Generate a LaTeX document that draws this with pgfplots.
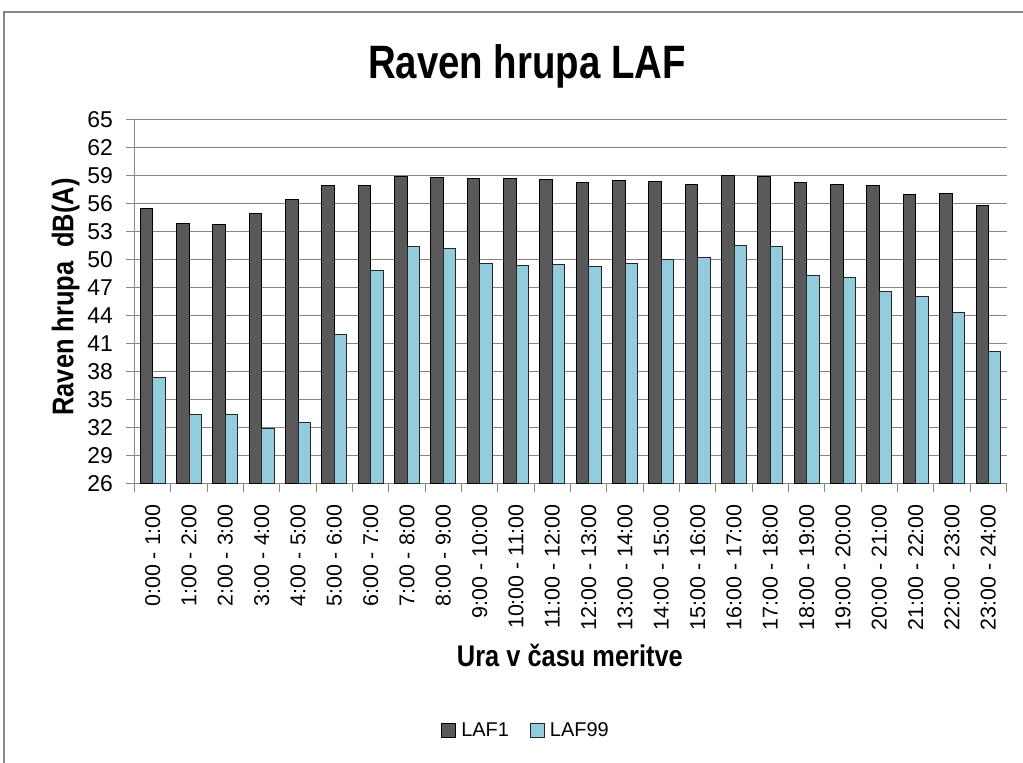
\documentclass[border=0pt]{standalone}
\usepackage{pgfplots}
\pgfplotsset{compat=1.18}
\usepackage{fontspec}
\setmainfont{Liberation Sans}
\newfontfamily\titlefont{Liberation Sans}[FakeStretch=0.82]
\newfontfamily\labelfont{Liberation Sans}[FakeStretch=0.85]
\definecolor{darkbar}{HTML}{595959}
\definecolor{lightbar}{HTML}{93CDDD}
\definecolor{gridgray}{HTML}{868686}
\begin{document}
\begin{tikzpicture}[x=1bp,y=1bp]
\begin{axis}[
  at={(0,0)}, anchor=south west,
  scale only axis, width=872bp, height=364bp,
  xmin=-0.5, xmax=23.5, ymin=26, ymax=65,
  ybar=0pt, bar width=12.35bp,
  axis x line*=bottom, axis y line*=left,
  axis line style={gridgray, line width=1.2bp},
  ytick={26,29,...,65},
  ymajorgrids, grid style={gridgray, line width=1.2bp},
  xtick={0,...,23},
  xticklabels={0:00 - 1:00,1:00 - 2:00,2:00 - 3:00,3:00 - 4:00,4:00 - 5:00,5:00 - 6:00,6:00 - 7:00,7:00 - 8:00,8:00 - 9:00,9:00 - 10:00,10:00 - 11:00,11:00 - 12:00,12:00 - 13:00,13:00 - 14:00,14:00 - 15:00,15:00 - 16:00,16:00 - 17:00,17:00 - 18:00,18:00 - 19:00,19:00 - 20:00,20:00 - 21:00,21:00 - 22:00,22:00 - 23:00,23:00 - 24:00},
  minor xtick={-0.5,0.5,...,23.5},
  tick align=outside,
  major tick length=8bp, minor tick length=8bp,
  major x tick style={draw=none},
  minor x tick style={gridgray, line width=1.2bp},
  ytick style={gridgray, line width=1.2bp},
  /pgf/number format/assume math mode=true,
  yticklabel style={font=\fontsize{23}{23}\selectfont, xshift=-10bp},
  xticklabel style={rotate=90, anchor=east, xshift=-9bp, font=\fontsize{21.5}{21.5}\selectfont},
  legend style={at={(0.449,-0.677)}, anchor=center, draw=none, legend columns=2,
    font=\fontsize{20}{20}\selectfont,
    /tikz/every odd column/.append style={column sep=3bp},
    /tikz/every even column/.append style={column sep=19bp}},
]
\addplot[fill=darkbar, draw=black, line width=1bp,
  legend image code/.code={\draw[fill=darkbar, draw=black, line width=1bp] (0bp,-7bp) rectangle (14bp,7bp);}]
coordinates {(0,55.5)(1,53.9)(2,53.8)(3,54.9)(4,56.5)(5,57.9)(6,58.0)(7,58.9)(8,58.8)(9,58.7)(10,58.7)(11,58.6)(12,58.3)(13,58.5)(14,58.4)(15,58.1)(16,59.0)(17,58.9)(18,58.3)(19,58.1)(20,57.9)(21,57.0)(22,57.1)(23,55.8)};
\addlegendentry{LAF1}
\addplot[fill=lightbar, draw=black!85, line width=0.9bp,
  legend image code/.code={\draw[fill=lightbar, draw=black!85, line width=1bp] (0bp,-7bp) rectangle (14bp,7bp);}]
coordinates {(0,37.4)(1,33.4)(2,33.4)(3,31.9)(4,32.6)(5,42.0)(6,48.8)(7,51.4)(8,51.2)(9,49.6)(10,49.4)(11,49.5)(12,49.3)(13,49.6)(14,50.0)(15,50.2)(16,51.5)(17,51.4)(18,48.3)(19,48.1)(20,46.6)(21,46.1)(22,44.3)(23,40.2)};
\addlegendentry{LAF99}
\end{axis}
\node[anchor=base, font=\titlefont\bfseries\fontsize{47}{47}\selectfont] at (392.5,405.4) {Raven hrupa LAF};
\node[anchor=base, font=\labelfont\bfseries\fontsize{30}{30}\selectfont] at (435.4,-183.3) {Ura v času meritve};
\node[anchor=base, rotate=90, font=\labelfont\bfseries\fontsize{30}{30}\selectfont] at (-61.2,186.7) {Raven hrupa\ \ dB(A)};
\draw[gridgray, line width=1.3bp] (-130.5,-400) -- (-130.5,471.7) -- (1100,471.7);
\pgfresetboundingbox
\path[use as bounding box] (-134.5,-279.3) rectangle (888.5,483.7);
\end{tikzpicture}
\end{document}
